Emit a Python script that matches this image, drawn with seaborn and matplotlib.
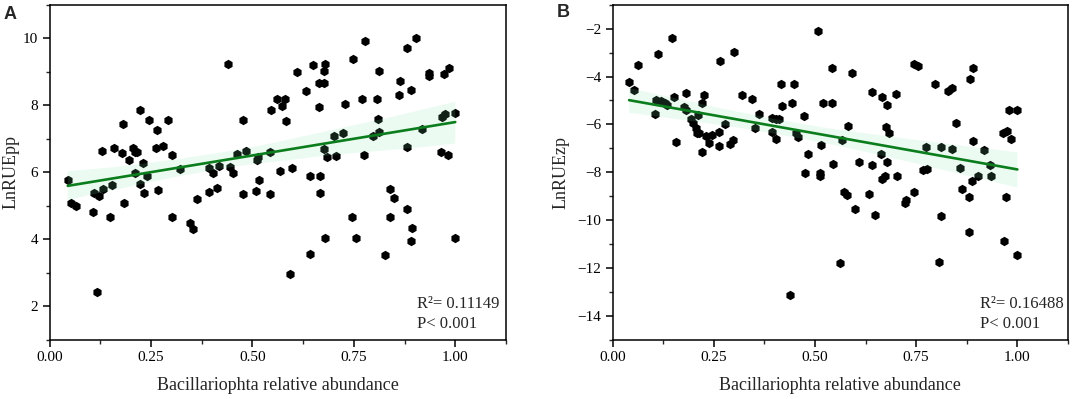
import matplotlib
matplotlib.use('Agg')
import matplotlib.pyplot as plt
from matplotlib.ticker import MultipleLocator, FormatStrFormatter
import seaborn as sns
import pandas as pd

# panel A: Bacillariophta relative abundance vs LnRUEpp
abund_pp = [0.045, 0.110, 0.123, 0.133, 0.153, 0.130, 0.160, 0.178, 0.182, 0.195,
            0.205, 0.211, 0.216, 0.223, 0.230, 0.210, 0.223, 0.240, 0.233, 0.246,
            0.266, 0.263, 0.280, 0.292, 0.268, 0.302, 0.321, 0.363, 0.394, 0.403,
            0.417, 0.394, 0.413, 0.440, 0.445, 0.451, 0.461, 0.477, 0.484, 0.476,
            0.514, 0.511, 0.517, 0.510, 0.543, 0.546, 0.543, 0.561, 0.574, 0.580,
            0.584, 0.568, 0.598, 0.610, 0.633, 0.650, 0.665, 0.676, 0.676, 0.679,
            0.665, 0.642, 0.666, 0.666, 0.676, 0.684, 0.705, 0.701, 0.724, 0.729,
            0.747, 0.777, 0.769, 0.776, 0.798, 0.807, 0.810, 0.812, 0.813, 0.839,
            0.850, 0.861, 0.865, 0.881, 0.903, 0.890, 0.881, 0.917, 0.935, 0.935,
            0.973, 0.985, 0.965, 0.982, 0.967, 0.974, 1.000, 0.054, 0.065, 0.108,
            0.116, 0.149, 0.183, 0.302, 0.346, 0.354, 0.746, 0.679, 0.642, 0.592,
            0.755, 0.839, 0.881, 0.893, 0.891, 0.827, 1.000]
lnrue_pp = [5.77, 5.39, 5.30, 5.49, 5.61, 6.64, 6.74, 6.57, 7.43, 6.37,
            6.74, 6.61, 6.61, 7.85, 6.29, 5.99, 5.64, 5.89, 5.39, 7.55,
            7.25, 6.74, 6.80, 7.55, 5.48, 6.53, 6.09, 5.20, 6.12, 5.99,
            6.19, 5.42, 5.52, 9.24, 6.17, 5.99, 6.56, 7.57, 6.64, 5.35,
            6.46, 6.37, 5.77, 5.44, 6.61, 7.85, 5.35, 8.18, 7.97, 8.18,
            7.52, 6.05, 6.12, 9.00, 8.43, 9.19, 8.67, 8.67, 9.01, 9.22,
            7.95, 5.90, 5.88, 5.38, 6.71, 6.46, 6.48, 7.08, 7.16, 8.04,
            9.37, 9.92, 8.20, 6.51, 7.08, 8.20, 7.60, 7.19, 9.03, 5.50,
            5.23, 8.30, 8.73, 9.70, 10.00, 8.47, 6.75, 7.28, 8.96, 8.86,
            8.94, 9.11, 6.60, 6.53, 7.65, 7.73, 7.78, 5.08, 5.00, 4.83,
            2.42, 4.66, 5.10, 4.66, 4.48, 4.32, 4.66, 4.04, 3.57, 2.96,
            4.03, 4.68, 4.91, 4.35, 3.94, 3.54, 4.04]

# panel B: Bacillariophta relative abundance vs LnRUEzp
abund_zp = [0.041, 0.054, 0.063, 0.112, 0.147, 0.106, 0.107, 0.121, 0.129, 0.134,
            0.152, 0.157, 0.176, 0.181, 0.181, 0.194, 0.199, 0.205, 0.208, 0.214,
            0.211, 0.221, 0.227, 0.221, 0.232, 0.239, 0.245, 0.265, 0.263, 0.263,
            0.278, 0.290, 0.298, 0.301, 0.319, 0.345, 0.361, 0.353, 0.393, 0.405,
            0.411, 0.393, 0.403, 0.415, 0.419, 0.443, 0.448, 0.452, 0.458, 0.472,
            0.508, 0.483, 0.475, 0.512, 0.513, 0.515, 0.520, 0.541, 0.541, 0.545,
            0.568, 0.582, 0.591, 0.572, 0.579, 0.609, 0.633, 0.641, 0.640, 0.665,
            0.677, 0.701, 0.663, 0.678, 0.666, 0.674, 0.702, 0.676, 0.683, 0.744,
            0.755, 0.744, 0.725, 0.775, 0.767, 0.776, 0.796, 0.812, 0.828, 0.838,
            0.838, 0.849, 0.859, 0.864, 0.882, 0.891, 0.891, 0.917, 0.888, 0.903,
            0.933, 0.934, 0.880, 0.964, 0.975, 0.984, 0.980, 1.000, 0.973, 0.439,
            0.598, 0.649, 0.561, 0.722, 0.812, 0.806, 0.880, 0.966, 0.999]
lnrue_zp = [-4.21, -4.57, -3.51, -3.06, -2.39, -5.58, -4.98, -5.04, -5.10, -5.20,
            -4.86, -6.73, -5.26, -5.40, -4.70, -5.77, -5.95, -6.16, -6.34, -6.34,
            -5.61, -5.11, -4.78, -7.16, -6.48, -6.76, -6.44, -3.33, -6.90, -6.30,
            -5.98, -6.81, -6.65, -2.99, -4.76, -4.93, -5.57, -6.16, -5.75, -5.79,
            -5.77, -6.30, -6.62, -4.31, -5.23, -5.12, -4.32, -6.37, -6.51, -5.64,
            -2.10, -7.22, -8.03, -8.03, -8.17, -6.86, -5.12, -5.12, -3.65, -7.66,
            -6.66, -6.08, -3.85, -8.84, -8.94, -7.58, -8.90, -7.70, -4.65, -4.85,
            -5.20, -4.73, -7.23, -7.56, -8.27, -8.15, -8.15, -6.09, -6.34, -3.46,
            -3.57, -8.81, -9.15, -6.95, -7.90, -7.87, -4.33, -6.95, -4.60, -4.46,
            -7.01, -5.93, -7.83, -8.70, -4.12, -3.64, -6.69, -7.07, -8.36, -8.15,
            -7.69, -8.17, -9.01, -6.34, -6.27, -6.62, -5.40, -5.41, -9.03, -13.14,
            -9.51, -9.77, -11.78, -9.28, -9.81, -11.74, -10.48, -10.88, -11.44]

panels = ['A', 'B']
ylabels = ['LnRUEpp', 'LnRUEzp']
stats = [['R\u00b2= 0.11149', 'P< 0.001'], ['R\u00b2= 0.16488', 'P< 0.001']]

df_pp = pd.DataFrame({'abund': abund_pp, 'lnrue': lnrue_pp})
df_zp = pd.DataFrame({'abund': abund_zp, 'lnrue': lnrue_zp})

sns.set_style('ticks')
plt.rcParams['font.family'] = ['Liberation Serif', 'DejaVu Serif']
plt.rcParams['axes.linewidth'] = 1.1

fig = plt.figure(figsize=(10.72, 3.99), dpi=100)
ax1 = fig.add_axes([49.5 / 1072, 1 - 340 / 399, (506 - 49.5) / 1072, (340 - 4.7) / 399])
ax2 = fig.add_axes([612.5 / 1072, 1 - 340 / 399, (1068 - 612.5) / 1072, (340 - 4.7) / 399])

line_col = '#0b7d1c'
band_col = (124 / 255, 232 / 255, 168 / 255, 0.27)

for ax, d, ylab, st, ylim, ylab_x in [
        (ax1, df_pp, ylabels[0], stats[0], (1, 11), -0.066),
        (ax2, df_zp, ylabels[1], stats[1], (-15, -1), -0.094)]:
    sns.regplot(data=d, x='abund', y='lnrue', ax=ax, ci=95, n_boot=2000, seed=3,
                marker='h',
                scatter_kws={'color': 'black', 's': 46, 'linewidths': 0, 'alpha': 1},
                line_kws={'color': line_col, 'linewidth': 1.9})
    # recolour the confidence band (mint)
    for coll in ax.collections[1:]:
        coll.set_facecolor(band_col)
        coll.set_edgecolor('none')
    ax.set_xlim(0, 1.125)
    ax.set_ylim(*ylim)
    ax.xaxis.set_major_locator(MultipleLocator(0.25))
    ax.xaxis.set_minor_locator(MultipleLocator(0.125))
    ax.xaxis.set_major_formatter(FormatStrFormatter('%.2f'))
    ax.yaxis.set_major_locator(MultipleLocator(2))
    ax.yaxis.set_minor_locator(MultipleLocator(1))
    ax.tick_params(which='major', direction='out', length=5, width=1.1, labelsize=11, pad=3, colors='black')
    ax.tick_params(which='minor', direction='out', length=3, width=1.0)
    for s in ax.spines.values():
        s.set_visible(True)
        s.set_color('black')
    ax.set_xlabel('Bacillariophta relative abundance', fontsize=13)
    ax.set_ylabel(ylab, fontsize=13)
    ax.xaxis.set_label_coords(0.5, -0.11)
    ax.yaxis.set_label_coords(ylab_x, 0.5)
    ax.text(0.806, 0.095, st[0], transform=ax.transAxes, fontsize=12, va='baseline')
    ax.text(0.806, 0.035, st[1], transform=ax.transAxes, fontsize=12, va='baseline')

fig.text(0.003, 0.985, panels[0], fontsize=13, fontweight='bold', family='Liberation Sans', va='top')
fig.text(0.519, 0.99, panels[1], fontsize=13, fontweight='bold', family='Liberation Sans', va='top')

fig.savefig('out.png', dpi=100)
